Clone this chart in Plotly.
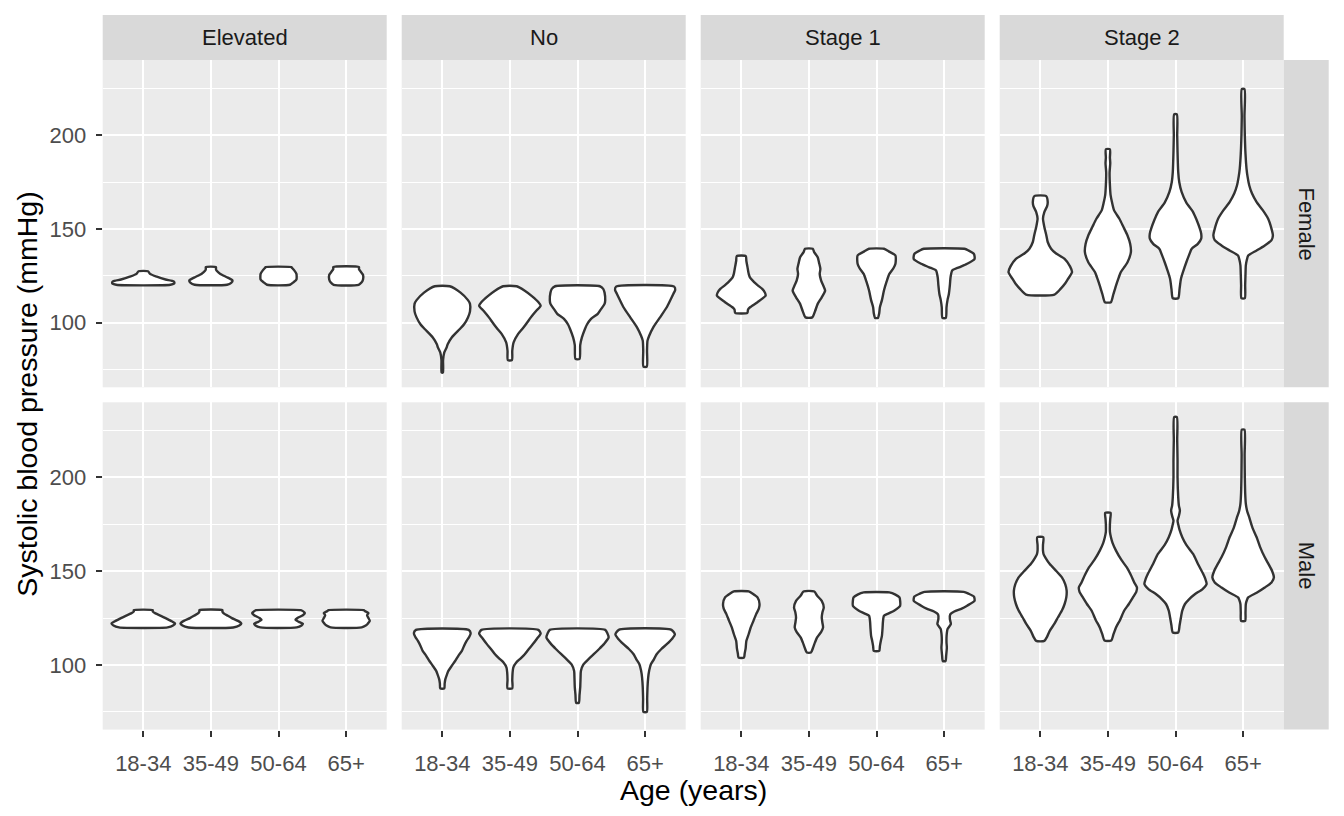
import plotly.graph_objects as go

# categorías
age_groups = ["18-34", "35-49", "50-64", "65+"]
bp_stages = ["Elevated", "No", "Stage 1", "Stage 2"]
sexes = ["Female", "Male"]

# perfiles de densidad: (presión sistólica, semi-ancho del violín)
# un perfil por grupo de edad, en el orden de age_groups
female_elevated = [
    [(120.2, 0.40), (121.0, 0.46), (122.0, 0.45), (123.0, 0.33), (124.5, 0.20), (126.0, 0.10), (127.4, 0.07)],
    [(120.2, 0.24), (121.2, 0.30), (122.5, 0.32), (124.0, 0.25), (126.0, 0.14), (127.5, 0.09), (128.5, 0.075), (129.6, 0.075)],
    [(120.2, 0.17), (121.5, 0.22), (123.0, 0.265), (126.0, 0.265), (128.0, 0.23), (129.2, 0.20), (129.6, 0.19)],
    [(120.2, 0.185), (121.5, 0.23), (123.0, 0.25), (125.5, 0.25), (127.0, 0.22), (128.5, 0.19), (129.6, 0.19)],
]
female_no = [
    [(73.4, 0.01), (80, 0.012), (84.1, 0.03), (86.8, 0.065), (88.5, 0.08), (92.1, 0.14), (96.6, 0.26), (99, 0.32),
     (102.8, 0.38), (106, 0.41), (110, 0.41), (112, 0.38), (116, 0.27), (119.4, 0.11)],
    [(80.0, 0.03), (85, 0.035), (89.5, 0.055), (93.9, 0.12), (96.5, 0.18), (99.3, 0.24), (102.8, 0.31), (106.3, 0.39),
     (109, 0.455), (111, 0.42), (114, 0.33), (117, 0.22), (119.4, 0.10)],
    [(80.6, 0.03), (88, 0.04), (92.1, 0.065), (96.6, 0.11), (99, 0.14), (102, 0.20), (104.7, 0.30), (107.3, 0.35),
     (110, 0.40), (112, 0.41), (116, 0.40), (118, 0.38), (119.4, 0.33)],
    [(76.5, 0.025), (85, 0.028), (90.4, 0.035), (93, 0.06), (97.5, 0.12), (102.8, 0.22), (108.2, 0.32), (111.8, 0.37),
     (115.5, 0.42), (117.5, 0.445), (119.2, 0.43)],
]
female_stage1 = [
    [(105.2, 0.09), (107, 0.10), (108.2, 0.13), (110.9, 0.24), (114.4, 0.36), (116, 0.35), (118, 0.31), (120, 0.24),
     (121.6, 0.19), (124, 0.13), (126, 0.11), (130, 0.09), (133, 0.075), (135.5, 0.067)],
    [(102.8, 0.05), (106, 0.09), (110, 0.13), (113.5, 0.19), (117.1, 0.24), (120, 0.21), (122.5, 0.18), (126, 0.16),
     (128.7, 0.17), (132, 0.15), (134.9, 0.13), (137.5, 0.08), (139.4, 0.057)],
    [(102.5, 0.02), (105, 0.04), (108.2, 0.05), (112, 0.08), (117.1, 0.11), (122, 0.15), (126, 0.19), (129, 0.25),
     (131.4, 0.28), (135.8, 0.28), (138, 0.18), (139.4, 0.11)],
    [(102.5, 0.025), (108.2, 0.035), (112, 0.05), (115.3, 0.07), (120, 0.085), (124.2, 0.095), (127.8, 0.12),
     (129.5, 0.22), (131.4, 0.34), (134, 0.45), (136.7, 0.44), (138.5, 0.36), (139.4, 0.30)],
]
female_stage2 = [
    [(115.0, 0.21), (118, 0.30), (121, 0.37), (123.3, 0.41), (126.9, 0.47), (130, 0.44), (134, 0.36), (137, 0.23),
     (139.4, 0.16), (143, 0.11), (146.5, 0.09), (151, 0.06), (155.4, 0.04), (159, 0.06), (162, 0.10), (164.3, 0.11),
     (167.5, 0.087)],
    [(110.9, 0.045), (115, 0.08), (119.8, 0.12), (124, 0.16), (126.9, 0.19), (130, 0.25), (132.2, 0.29), (137.6, 0.34),
     (142, 0.33), (146.5, 0.29), (151, 0.23), (155.4, 0.17), (160, 0.09), (164.3, 0.06), (168, 0.04), (173.3, 0.03),
     (180, 0.025), (185, 0.035), (188, 0.03), (192.5, 0.03)],
    [(113.0, 0.04), (118, 0.06), (123.3, 0.08), (128, 0.12), (132.2, 0.16), (136, 0.20), (139.4, 0.24), (142, 0.33),
     (144.8, 0.38), (147.5, 0.38), (150.1, 0.36), (155, 0.31), (159, 0.26), (164, 0.16), (169.7, 0.09), (175, 0.055),
     (180.4, 0.04), (191.1, 0.03), (200, 0.025), (211.1, 0.02)],
    [(113.0, 0.025), (120, 0.03), (126, 0.035), (130.5, 0.04), (133.5, 0.055), (135.8, 0.075), (138.5, 0.20),
     (141.2, 0.32), (144, 0.42), (146.5, 0.44), (150, 0.42), (155.4, 0.37), (160, 0.29), (164.3, 0.20), (169, 0.13),
     (173.3, 0.09), (178, 0.065), (182.2, 0.05), (190, 0.035), (200, 0.025), (210, 0.02), (224.6, 0.02)],
]
male_elevated = [
    [(120.0, 0.36), (121, 0.44), (122.1, 0.47), (123.5, 0.41), (125, 0.33), (126.2, 0.26), (127.5, 0.18), (128.5, 0.14), (129.2, 0.14)],
    [(120.0, 0.33), (121, 0.42), (122.1, 0.45), (123.5, 0.40), (125, 0.31), (126.2, 0.25), (127.5, 0.19), (128.5, 0.17), (129.2, 0.17)],
    [(120.0, 0.27), (121, 0.34), (122.0, 0.36), (123.0, 0.30), (124.0, 0.25), (125.0, 0.28), (126.5, 0.36), (127.7, 0.39), (128.7, 0.36), (129.2, 0.33)],
    [(120.0, 0.23), (121, 0.29), (122, 0.32), (123.5, 0.35), (125, 0.33), (126.5, 0.31), (127.7, 0.33), (128.7, 0.28), (129.2, 0.26)],
]
male_no = [
    [(87.5, 0.03), (90, 0.035), (92.3, 0.045), (95, 0.07), (96.8, 0.09), (99.5, 0.14), (102.1, 0.19), (105, 0.24),
     (107.5, 0.29), (110, 0.32), (112.8, 0.36), (115, 0.40), (117, 0.42), (118.7, 0.39)],
    [(87.5, 0.035), (92, 0.035), (96, 0.04), (98.6, 0.05), (101.3, 0.094), (103.5, 0.16), (105.7, 0.22), (108.5, 0.28),
     (111.1, 0.34), (114, 0.40), (116.8, 0.455), (118.7, 0.42)],
    [(79.8, 0.02), (84, 0.03), (88, 0.04), (93, 0.045), (96.8, 0.05), (100.4, 0.09), (103, 0.16), (105.7, 0.24),
     (108.5, 0.32), (111.1, 0.39), (114.6, 0.46), (117, 0.44), (118.7, 0.41)],
    [(74.9, 0.025), (82, 0.03), (88, 0.035), (93.2, 0.045), (97, 0.06), (100.4, 0.085), (103, 0.13), (105.7, 0.17),
     (108.5, 0.24), (111.1, 0.32), (114, 0.40), (116.3, 0.44), (118.7, 0.39)],
]
male_stage1 = [
    [(103.9, 0.04), (106, 0.05), (109, 0.065), (112.8, 0.075), (116.5, 0.11), (120, 0.14), (123.5, 0.18), (127.1, 0.22),
     (130, 0.26), (132.5, 0.27), (136, 0.24), (138, 0.17), (139.2, 0.11)],
    [(106.6, 0.03), (109, 0.06), (112, 0.09), (114.6, 0.12), (117.5, 0.18), (120, 0.21), (122.5, 0.20), (125.3, 0.19),
     (128, 0.20), (130.6, 0.22), (134.2, 0.19), (137, 0.12), (139.2, 0.08)],
    [(107.5, 0.04), (110, 0.05), (113, 0.065), (115.5, 0.08), (120, 0.09), (123, 0.095), (126.2, 0.11), (127.5, 0.18),
     (128.9, 0.26), (131.6, 0.35), (134, 0.35), (136, 0.34), (137.5, 0.28), (138.7, 0.19)],
    [(102.1, 0.02), (105, 0.03), (109.3, 0.04), (112, 0.035), (114.6, 0.035), (117, 0.04), (119.1, 0.05), (121.8, 0.10),
     (124.4, 0.085), (127, 0.09), (128.5, 0.15), (130, 0.26), (131.6, 0.34), (134.2, 0.45), (136.5, 0.44), (138, 0.36), (139.0, 0.29)],
]
male_stage2 = [
    [(112.8, 0.06), (115, 0.10), (118.2, 0.14), (122, 0.21), (125.3, 0.26), (129, 0.32), (132.5, 0.36), (136, 0.385),
     (139.6, 0.39), (143, 0.37), (146.7, 0.32), (150, 0.24), (153.8, 0.14), (157, 0.08), (159, 0.05), (161, 0.04),
     (164, 0.04), (168.1, 0.045)],
    [(113, 0.05), (116, 0.08), (120, 0.12), (124, 0.18), (128.9, 0.24), (132.5, 0.31), (136, 0.37), (139, 0.42),
     (141.3, 0.43), (144, 0.39), (148, 0.34), (152, 0.28), (156, 0.20), (161, 0.12), (165, 0.07), (168.1, 0.045),
     (171, 0.03), (175, 0.03), (178, 0.035), (181.1, 0.04)],
    [(117.3, 0.04), (121, 0.06), (125.3, 0.08), (129, 0.10), (132.5, 0.14), (135, 0.20), (137.8, 0.29), (140.5, 0.40),
     (143.2, 0.46), (146, 0.44), (148.5, 0.41), (154, 0.33), (159.2, 0.26), (164, 0.16), (168.1, 0.10), (172, 0.06),
     (175, 0.04), (177, 0.03), (179.5, 0.05), (182.4, 0.065), (185, 0.05), (189.5, 0.04), (200, 0.03), (209.1, 0.03),
     (220, 0.025), (232.2, 0.02)],
    [(123.5, 0.03), (128, 0.035), (132.5, 0.04), (134.5, 0.055), (136, 0.075), (138.5, 0.20), (141.3, 0.32), (144, 0.42),
     (146.7, 0.455), (150, 0.43), (153.5, 0.38), (157.4, 0.32), (163, 0.25), (168.1, 0.20), (173, 0.14), (178.8, 0.09),
     (182, 0.06), (185.9, 0.04), (192, 0.03), (200.2, 0.025), (212, 0.022), (225.5, 0.02)],
]

panels = [
    [female_elevated, female_no, female_stage1, female_stage2],
    [male_elevated, male_no, male_stage1, male_stage2],
]

# la página html añade 8 px de margen: se resta de todas las posiciones
OFF = 8
W, H = 1344 - OFF, 816 - OFF
col_left = [102.7 - OFF + 299 * c for c in range(4)]
panel_w = 284
row_top = [60 - OFF, 402.3 - OFF]
panel_h = 327.3
strip = 45

fig = go.Figure()
layout = dict(
    width=W, height=H,
    margin=dict(l=0, r=0, t=0, b=0),
    paper_bgcolor="white", plot_bgcolor="#EBEBEB",
    showlegend=False,
    font=dict(family="Liberation Sans, Arial, sans-serif", size=22, color="#4D4D4D"),
    shapes=[], annotations=[],
)

for r in range(2):
    for c in range(4):
        k = r * 4 + c + 1
        xa = "x" if k == 1 else f"x{k}"
        ya = "y" if k == 1 else f"y{k}"
        for i, prof in enumerate(panels[r][c]):
            vals = [p[0] for p in prof]
            hw = [p[1] for p in prof]
            xs = [i + 1 + w for w in hw] + [i + 1 - w for w in reversed(hw)] + [i + 1 + hw[0]]
            ys = vals + list(reversed(vals)) + [vals[0]]
            fig.add_trace(go.Scatter(
                x=xs, y=ys, xaxis=xa, yaxis=ya, mode="lines", fill="toself",
                fillcolor="white", line=dict(color="#333333", width=2.4, shape="spline", smoothing=0.6),
                hoverinfo="skip"))
        xd = [col_left[c] / W, (col_left[c] + panel_w) / W]
        yd = [1 - (row_top[r] + panel_h) / H, 1 - row_top[r] / H]
        layout["xaxis" if k == 1 else f"xaxis{k}"] = dict(
            domain=xd, anchor=ya, range=[0.4, 4.6],
            tickvals=[1, 2, 3, 4], ticktext=age_groups, showticklabels=(r == 1),
            ticks="outside" if r == 1 else "", ticklen=6, tickwidth=2, tickcolor="#333333",
            showgrid=True, gridcolor="white", gridwidth=2.1, zeroline=False, showline=False,
            ticklabelstandoff=8, automargin=False, fixedrange=True)
        layout["yaxis" if k == 1 else f"yaxis{k}"] = dict(
            domain=yd, anchor=xa, range=[65.5, 240.1],
            tickvals=[100, 150, 200], showticklabels=(c == 0),
            ticks="outside" if c == 0 else "", ticklen=6, tickwidth=2, tickcolor="#333333",
            showgrid=True, gridcolor="white", gridwidth=2.1, zeroline=False, showline=False,
            minor=dict(tickvals=[75, 125, 175, 225], showgrid=True, gridcolor="white", gridwidth=1.1),
            ticklabelstandoff=5, automargin=False, fixedrange=True)

# cabeceras de las facetas
for c in range(4):
    layout["shapes"].append(dict(type="rect", xref="paper", yref="paper",
                                 x0=col_left[c] / W, x1=(col_left[c] + panel_w) / W,
                                 y0=1 - row_top[0] / H, y1=1 - (row_top[0] - strip) / H,
                                 fillcolor="#D9D9D9", line=dict(width=0), layer="below"))
    layout["annotations"].append(dict(text=bp_stages[c], xref="paper", yref="paper",
                                      x=(col_left[c] + panel_w / 2) / W, y=1 - (row_top[0] - strip / 2) / H,
                                      showarrow=False, font=dict(size=22, color="#1A1A1A"),
                                      xanchor="center", yanchor="middle"))
right_x = col_left[3] + panel_w
for r in range(2):
    layout["shapes"].append(dict(type="rect", xref="paper", yref="paper",
                                 x0=right_x / W, x1=(right_x + strip) / W,
                                 y0=1 - (row_top[r] + panel_h) / H, y1=1 - row_top[r] / H,
                                 fillcolor="#D9D9D9", line=dict(width=0), layer="below"))
    layout["annotations"].append(dict(text=sexes[r], xref="paper", yref="paper",
                                      x=(right_x + strip / 2) / W, y=1 - (row_top[r] + panel_h / 2) / H,
                                      showarrow=False, textangle=90, font=dict(size=22, color="#1A1A1A"),
                                      xanchor="center", yanchor="middle"))

# títulos de los ejes
layout["annotations"].append(dict(text="Age (years)", xref="paper", yref="paper",
                                  x=(col_left[0] + (right_x - col_left[0]) / 2) / W, y=1 - (790 - OFF) / H,
                                  showarrow=False, font=dict(size=28.5, color="black"),
                                  xanchor="center", yanchor="middle"))
layout["annotations"].append(dict(text="Systolic blood pressure (mmHg)", xref="paper", yref="paper",
                                  x=(27 - OFF) / W, y=1 - (row_top[0] + (row_top[1] + panel_h - row_top[0]) / 2) / H,
                                  showarrow=False, textangle=-90, font=dict(size=28.5, color="black"),
                                  xanchor="center", yanchor="middle"))

fig.update_layout(**layout)
fig.write_html("out.html")
